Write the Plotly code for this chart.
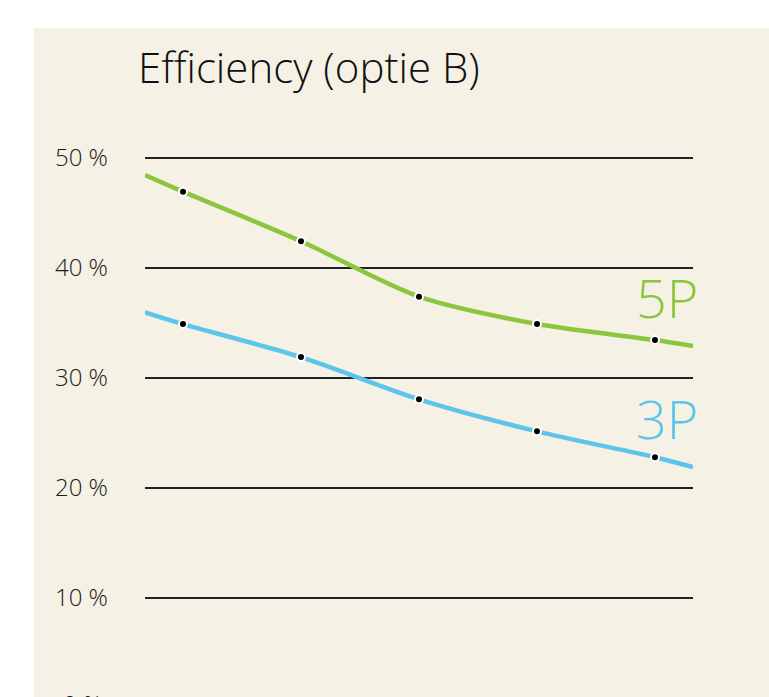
import plotly.graph_objects as go

# ---- data ----
x_line = [0.678, 1, 2, 3, 4, 5, 5.322]
green_5p = [48.45, 46.94, 42.43, 37.39, 34.91, 33.45, 32.9]
blue_3p = [35.97, 34.9, 31.9, 28.06, 25.15, 22.8, 21.9]
x_points = [1, 2, 3, 4, 5]
green_pts = green_5p[1:6]
blue_pts = blue_3p[1:6]
tick_vals = [10, 20, 30, 40, 50]
tick_text = ["10 %", "20 %", "30 %", "40 %", "50 %"]

W, H = 769, 697
L, R, T, B = 145, 76, 130, 0
pw, ph = W - L - R, H - T - B

def px_x(p):  # page pixel -> paper
    return (p - L) / pw

def px_y(p):
    return (H - B - p) / ph

GREEN = "#8cc63f"
BLUE = "#5ec4ec"
BG = "#f5f1e5"
FONT = "Open Sans"

fig = go.Figure()
for ys, col in [(green_5p, GREEN), (blue_3p, BLUE)]:
    fig.add_trace(go.Scatter(x=x_line, y=ys, mode="lines",
                             line=dict(color=col, width=4.5, shape="spline", smoothing=0.8),
                             hoverinfo="skip", showlegend=False))
for ys in [green_pts, blue_pts]:
    fig.add_trace(go.Scatter(x=x_points, y=ys, mode="markers",
                             marker=dict(color="black", size=8, line=dict(color="white", width=2)),
                             showlegend=False))

fig.add_shape(type="rect", xref="paper", yref="paper",
              x0=px_x(34), x1=px_x(W + 20), y0=px_y(H + 20), y1=px_y(28),
              fillcolor=BG, line=dict(width=0), layer="below")

fig.add_annotation(text="Efficiency (optie B)", xref="paper", yref="paper",
                   x=px_x(136), y=px_y(66), xanchor="left", yanchor="middle",
                   showarrow=False, font=dict(family=FONT, size=42, color="#111", weight=300))
fig.add_annotation(text="5P", xref="paper", yref="paper",
                   x=px_x(700), y=px_y(297), xanchor="right", yanchor="middle",
                   showarrow=False, font=dict(family=FONT, size=54, color=GREEN, weight=300))
fig.add_annotation(text="3P", xref="paper", yref="paper",
                   x=px_x(700), y=px_y(418), xanchor="right", yanchor="middle",
                   showarrow=False, font=dict(family=FONT, size=54, color=BLUE, weight=300))
fig.add_annotation(text="0 %", xref="paper", yref="paper",
                   x=px_x(104), y=px_y(703), xanchor="right", yanchor="middle",
                   showarrow=False, font=dict(family=FONT, size=24, color="#1a1a1a", weight=300))

fig.update_layout(
    width=W, height=H,
    margin=dict(l=L, r=R, t=T, b=B),
    paper_bgcolor="white",
    plot_bgcolor="rgba(0,0,0,0)",
    xaxis=dict(range=[0.678, 5.322], showgrid=False, zeroline=False,
               showticklabels=False, showline=False, ticks=""),
    yaxis=dict(range=[1.0, 52.545], tickvals=tick_vals, ticktext=tick_text,
               showgrid=True, gridcolor="#222", gridwidth=2, zeroline=False,
               showline=False, ticks="", ticklabelstandoff=36,
               tickfont=dict(family=FONT, size=24, color="#1a1a1a", weight=300)),
)

fig.write_html(
    "out.html",
    config={"displayModeBar": False},
    post_script="document.body.style.margin='0';"
                "document.documentElement.style.overflow='hidden';",
)
